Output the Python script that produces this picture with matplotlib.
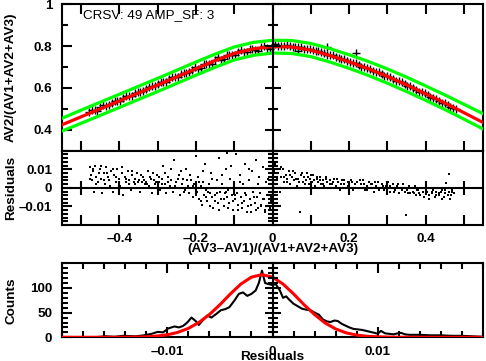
"""Amplitude ratio AV2/(AV1+AV2+AV3) vs. position, with residuals and residual histogram."""

import matplotlib
matplotlib.use("Agg")
import matplotlib.pyplot as plt
from matplotlib.ticker import FixedLocator, MultipleLocator, FuncFormatter

# --- top panel: measured ratio ---
data_x = [-0.48, -0.465, -0.45, -0.435, -0.42, -0.405, -0.39, -0.375, -0.36, -0.345,
          -0.33, -0.315, -0.30, -0.285, -0.27, -0.255, -0.24, -0.225, -0.21, -0.195,
          -0.18, -0.165, -0.15, -0.135, -0.12, -0.105, -0.09, -0.075, -0.06, -0.045,
          -0.03, -0.015, 0.0, 0.015, 0.03, 0.045, 0.06, 0.075, 0.09, 0.105,
          0.12, 0.135, 0.15, 0.165, 0.18, 0.195, 0.21, 0.225, 0.24, 0.255,
          0.27, 0.285, 0.30, 0.315, 0.33, 0.345, 0.36, 0.375, 0.39, 0.405,
          0.42, 0.435, 0.45, 0.465, 0.48, 0.066, 0.143, 0.217,
          -0.4725, -0.4575, -0.4425, -0.4275, -0.4125, -0.3975, -0.3825, -0.3675, -0.3525, -0.3375,
          -0.3225, -0.3075, -0.2925, -0.2775, -0.2625, -0.2475, -0.2325, -0.2175, -0.2025, -0.1875,
          -0.1725, -0.1575, -0.1425, -0.1275, -0.1125, -0.0975, -0.0825, -0.0675, -0.0525, -0.0375,
          -0.0225, -0.0075, 0.0075, 0.0225, 0.0375, 0.0525, 0.0675, 0.0825, 0.0975, 0.1125,
          0.1275, 0.1425, 0.1575, 0.1725, 0.1875, 0.2025, 0.2175, 0.2325, 0.2475, 0.2625,
          0.2775, 0.2925, 0.3075, 0.3225, 0.3375, 0.3525, 0.3675, 0.3825, 0.3975, 0.4125,
          0.4275, 0.4425, 0.4575, 0.4725]
data_y = [0.484, 0.494, 0.508, 0.515, 0.530, 0.539, 0.552, 0.561, 0.575, 0.583,
          0.597, 0.607, 0.619, 0.628, 0.643, 0.650, 0.666, 0.672, 0.688, 0.693,
          0.714, 0.714, 0.734, 0.735, 0.759, 0.758, 0.774, 0.770, 0.787, 0.783,
          0.798, 0.791, 0.801, 0.803, 0.801, 0.803, 0.797, 0.795, 0.787, 0.783,
          0.775, 0.768, 0.758, 0.750, 0.739, 0.731, 0.719, 0.712, 0.700, 0.690,
          0.677, 0.668, 0.656, 0.643, 0.633, 0.618, 0.607, 0.592, 0.580, 0.565,
          0.553, 0.538, 0.526, 0.511, 0.498, 0.778, 0.798, 0.767,
          0.493, 0.492, 0.517, 0.518, 0.538, 0.537, 0.561, 0.563, 0.582, 0.584,
          0.606, 0.609, 0.627, 0.629, 0.651, 0.653, 0.673, 0.675, 0.699, 0.695,
          0.716, 0.716, 0.746, 0.739, 0.758, 0.756, 0.782, 0.771, 0.788, 0.779,
          0.801, 0.788, 0.808, 0.799, 0.805, 0.796, 0.798, 0.788, 0.788, 0.776,
          0.773, 0.759, 0.756, 0.741, 0.737, 0.722, 0.718, 0.702, 0.697, 0.681,
          0.675, 0.659, 0.651, 0.634, 0.627, 0.609, 0.601, 0.582, 0.574, 0.556,
          0.548, 0.530, 0.520, 0.503]

# fitted curve and its tolerance band
fit_x = [-0.55, -0.50, -0.45, -0.40, -0.35, -0.30, -0.25, -0.20, -0.15, -0.10, -0.05, 0.0,
         0.05, 0.10, 0.15, 0.20, 0.25, 0.30, 0.35, 0.40, 0.45, 0.50, 0.55]
fit_y = [0.424, 0.462, 0.500, 0.538, 0.576, 0.614, 0.653, 0.692, 0.731, 0.765, 0.787, 0.798,
         0.796, 0.781, 0.755, 0.725, 0.692, 0.655, 0.615, 0.572, 0.528, 0.482, 0.435]
upper_y = [0.455, 0.494, 0.532, 0.570, 0.608, 0.646, 0.685, 0.724, 0.762, 0.796, 0.818, 0.828,
           0.827, 0.813, 0.788, 0.759, 0.727, 0.691, 0.652, 0.610, 0.567, 0.522, 0.477]
lower_y = [0.394, 0.431, 0.469, 0.507, 0.545, 0.583, 0.622, 0.661, 0.699, 0.734, 0.756, 0.767,
           0.765, 0.750, 0.724, 0.694, 0.660, 0.623, 0.583, 0.541, 0.497, 0.451, 0.404]

# --- middle panel: residuals ---
resid_x = [-0.478, -0.475, -0.472, -0.470, -0.466, -0.463, -0.460, -0.456, -0.452, -0.449,
           -0.445, -0.441, -0.437, -0.434, -0.430, -0.426, -0.422, -0.418, -0.414, -0.410,
           -0.406, -0.402, -0.398, -0.394, -0.390, -0.386, -0.382, -0.378, -0.374, -0.370,
           -0.366, -0.362, -0.358, -0.354, -0.350, -0.346, -0.342, -0.338, -0.334, -0.330,
           -0.326, -0.322, -0.318, -0.314, -0.310, -0.306, -0.302,
           -0.297, -0.293, -0.289, -0.285, -0.281, -0.277, -0.273, -0.269, -0.265, -0.261,
           -0.257, -0.253, -0.249, -0.245, -0.241, -0.237, -0.233, -0.229, -0.225, -0.221,
           -0.217, -0.213, -0.209, -0.205, -0.201,
           -0.197, -0.194, -0.191, -0.188, -0.185, -0.182, -0.179, -0.176, -0.173, -0.170,
           -0.167, -0.164, -0.161, -0.158, -0.155, -0.152, -0.149, -0.146, -0.143, -0.140,
           -0.137, -0.134, -0.131, -0.128, -0.125, -0.122, -0.119, -0.116, -0.113, -0.110,
           -0.107, -0.104, -0.101, -0.098, -0.095, -0.092, -0.089, -0.086, -0.083, -0.080,
           -0.077, -0.074, -0.071, -0.068, -0.065, -0.062, -0.059, -0.056, -0.053, -0.050,
           -0.047, -0.044, -0.041, -0.038, -0.035, -0.032, -0.029, -0.026, -0.023, -0.020,
           -0.017, -0.014, -0.011, -0.008, -0.005, -0.002,
           0.003, 0.007, 0.011, 0.015, 0.019, 0.023, 0.027, 0.031, 0.035, 0.039,
           0.043, 0.047, 0.051, 0.055, 0.059, 0.063, 0.067, 0.071, 0.075, 0.079,
           0.083, 0.087, 0.091, 0.095, 0.099, 0.103, 0.107, 0.111, 0.115, 0.119,
           0.123, 0.127, 0.131, 0.135, 0.139, 0.143, 0.147,
           0.151, 0.156, 0.161, 0.166, 0.171, 0.176, 0.181, 0.186, 0.191, 0.196,
           0.201, 0.206, 0.211, 0.216, 0.221, 0.226, 0.231, 0.236, 0.241, 0.246,
           0.251, 0.256, 0.261, 0.266, 0.271, 0.276, 0.281, 0.286, 0.291, 0.296,
           0.301, 0.306, 0.311, 0.316, 0.321, 0.326, 0.331, 0.336, 0.341, 0.346, 0.348,
           0.352, 0.356, 0.360, 0.364, 0.368, 0.372, 0.376, 0.380, 0.384, 0.388,
           0.392, 0.396, 0.400, 0.404, 0.408, 0.412, 0.416, 0.420, 0.424, 0.428,
           0.432, 0.436, 0.440, 0.444, 0.448, 0.452, 0.456, 0.460, 0.462, 0.466,
           0.470, 0.474, 0.453,
           -0.476, -0.468, -0.461, -0.454, -0.447, -0.439, -0.432, -0.424, -0.416, -0.408,
           -0.400, -0.392, -0.384, -0.376, -0.368, -0.360, -0.352, -0.344, -0.336, -0.328,
           -0.320, -0.312, -0.304, -0.296, -0.288, -0.280, -0.272, -0.264, -0.256, -0.248,
           -0.240, -0.232, -0.224, -0.216, -0.208,
           -0.199, -0.193, -0.187, -0.181, -0.175, -0.169, -0.163, -0.157, -0.151, -0.145,
           -0.139, -0.133, -0.127, -0.121, -0.115, -0.109, -0.103, -0.097, -0.091, -0.085,
           -0.079, -0.073, -0.067, -0.061, -0.055, -0.049, -0.043, -0.037, -0.031, -0.025,
           -0.019, -0.013, -0.007, -0.003,
           0.005, 0.013, 0.021, 0.029, 0.037, 0.045, 0.053, 0.061, 0.069, 0.077,
           0.085, 0.093, 0.101, 0.109, 0.117, 0.125, 0.133, 0.141, 0.149, 0.158,
           0.168, 0.178, 0.188, 0.198, 0.208, 0.218, 0.228, 0.238, 0.248, 0.258,
           0.268, 0.278, 0.288, 0.298, 0.308, 0.318, 0.328, 0.338, 0.354, 0.362,
           0.370, 0.378, 0.386, 0.394, 0.402, 0.410, 0.418, 0.426, 0.434, 0.442,
           0.450, 0.458, 0.464, 0.468, -0.120]
resid_y = [0.011, 0.007, 0.004, 0.009, -0.002, 0.012, 0.006, 0.003, 0.010, 0.005,
           -0.003, 0.008, 0.002, 0.011, 0.006, 0.004, 0.009, -0.002, 0.007, 0.003,
           0.010, 0.005, 0.001, 0.008, -0.004, 0.006, 0.003, 0.009, 0.004, -0.001,
           0.007, 0.003, 0.002, 0.008, 0.004, -0.002, 0.003, 0.006, 0.002, 0.003,
           0.009, 0.001, 0.005, -0.003, 0.004, 0.002, 0.007,
           0.003, -0.001, 0.005, 0.012, 0.002, -0.003, 0.006, 0.001, 0.004, -0.002,
           0.015, 0.003, 0.000, 0.007, -0.004, 0.002, 0.005, -0.001, 0.010, 0.001,
           -0.003, 0.004, -0.005, 0.002, 0.017,
           -0.002, 0.006, -0.006, 0.001, -0.009, 0.003, -0.004, 0.013, -0.001, -0.007,
           0.002, -0.003, 0.008, -0.005, -0.011, 0.000, -0.004, 0.004, -0.008, 0.016,
           -0.002, -0.006, 0.002, -0.010, -0.003, 0.010, -0.005, -0.001, -0.008, 0.005,
           -0.004, -0.012, 0.001, -0.006, 0.018, -0.003, -0.009, 0.007, -0.005, -0.011,
           0.002, -0.007, 0.013, -0.004, -0.010, 0.004, -0.006, -0.013, 0.009, -0.002,
           -0.008, 0.015, -0.005, -0.011, 0.006, -0.003, -0.009, 0.011, -0.006, -0.012,
           0.003, -0.004, -0.010, 0.008, -0.007, -0.002,
           0.006, 0.013, 0.004, 0.008, -0.002, 0.006, 0.010, 0.003, 0.007, 0.005,
           0.009, 0.002, 0.006, 0.004, 0.008, 0.001, 0.005, -0.013, 0.007, 0.003,
           0.006, 0.004, 0.008, 0.002, 0.005, 0.003, 0.007, 0.001, 0.005, 0.003,
           0.006, 0.002, 0.004, 0.001, 0.005, 0.003, 0.000,
           0.004, 0.002, 0.005, 0.001, 0.003, -0.001, 0.004, 0.002, 0.000, 0.003,
           0.001, 0.004, -0.001, 0.002, 0.003, 0.000, 0.002, 0.004, -0.001, 0.001,
           0.003, 0.000, 0.002, -0.002, 0.001, 0.003, 0.000, 0.002, -0.001, 0.001,
           0.003, -0.002, 0.000, 0.002, -0.001, 0.001, -0.003, 0.000, 0.002, -0.002, -0.0146,
           -0.001, 0.001, -0.003, 0.000, -0.002, 0.001, -0.004, -0.001, -0.003, 0.000,
           -0.002, -0.005, 0.001, -0.002, -0.004, 0.000, -0.003, -0.001, -0.005, -0.002,
           0.000, -0.004, -0.002, -0.001, -0.005, -0.003, 0.000, -0.002, 0.0077, -0.004,
           -0.001, -0.003, 0.0024,
           0.005, 0.010, 0.002, 0.008, 0.012, 0.004, 0.008, 0.001, 0.010, 0.006,
           0.003, 0.011, 0.005, 0.002, 0.009, 0.005, 0.003, 0.007, 0.004, 0.002,
           0.006, 0.008, 0.003, 0.006, 0.002, 0.008, 0.003, 0.010, 0.001, 0.005,
           0.009, -0.002, 0.004, 0.007, 0.001,
           -0.004, 0.003, -0.007, 0.009, -0.005, -0.002, -0.010, 0.005, -0.007, -0.003,
           -0.012, 0.007, -0.006, -0.002, -0.011, 0.012, -0.007, -0.004, -0.012, 0.003,
           -0.008, -0.003, -0.013, 0.010, -0.009, -0.005, -0.012, 0.002, -0.010, -0.006,
           -0.013, 0.005, -0.011, -0.005,
           0.009, 0.005, 0.011, 0.006, 0.003, 0.007, 0.009, 0.005, 0.003, 0.008,
           0.002, 0.006, 0.007, 0.004, 0.006, 0.004, 0.002, 0.006, 0.002, 0.003,
           0.005, 0.002, 0.004, 0.001, 0.003, 0.000, 0.004, 0.002, -0.001, 0.002,
           0.003, -0.001, 0.001, 0.002, 0.001, -0.002, 0.002, -0.001, -0.003, 0.000,
           -0.003, -0.001, -0.004, -0.002, -0.003, -0.006, -0.002, -0.004, -0.003, -0.006,
           -0.001, -0.004, -0.006, -0.002, 0.019]

# --- bottom panel: histogram of residuals and gaussian fit ---
hist_x = [-0.0200, -0.0170, -0.0158, -0.0150, -0.0142, -0.0130, -0.0122, -0.0115, -0.0109, -0.0104,
          -0.0099, -0.0093, -0.0089, -0.0085, -0.0081, -0.0077, -0.0073, -0.0070, -0.0066, -0.0062,
          -0.0058, -0.0053, -0.0049, -0.0045, -0.0041, -0.0036, -0.0032, -0.0028, -0.0024, -0.0020,
          -0.0016, -0.0013, -0.0010, -0.0007, -0.0004, 0.0000, 0.0003, 0.0007, 0.0010, 0.0013,
          0.0016, 0.0020, 0.0024, 0.0028, 0.0032, 0.0036, 0.0040, 0.0044, 0.0048, 0.0052,
          0.0055, 0.0059, 0.0062, 0.0066, 0.0069, 0.0073, 0.0077, 0.0081, 0.0085, 0.0089,
          0.0093, 0.0097, 0.0100, 0.0103, 0.0107, 0.0111, 0.0115, 0.0119, 0.0122, 0.0126,
          0.0130, 0.0140, 0.0150, 0.0160, 0.0170, 0.0180, 0.0190, 0.0200]
hist_counts = [0, 0, 2, 1, 3, 2, 4, 7, 11, 10,
               18, 22, 20, 23, 30, 40, 33, 25, 35, 44,
               40, 48, 55, 57, 61, 75, 88, 91, 84, 88,
               95, 110, 135, 110, 108, 106, 108, 95, 80, 83,
               76, 68, 63, 58, 56, 55, 50, 46, 36, 32,
               31, 34, 33, 27, 24, 20, 17, 16, 15, 13,
               11, 9, 7, 13, 8, 7, 6, 8, 9, 6,
               5, 5, 4, 4, 3, 3, 2, 1]

gauss_x = [-0.020, -0.015, -0.013, -0.012, -0.011, -0.010, -0.009, -0.008, -0.007, -0.006,
           -0.005, -0.004, -0.003, -0.002, -0.001, 0.000, 0.001, 0.002, 0.003, 0.004,
           0.005, 0.006, 0.007, 0.008, 0.009, 0.010, 0.011, 0.012, 0.020]
gauss_y = [0, 0, 0.5, 1, 2.5, 5, 10, 18, 30, 46,
           66, 88, 108, 122, 127, 122, 108, 88, 66, 46,
           29, 17, 9, 4.5, 2, 1, 0.4, 0, 0]

LW = 1.5
FONT = 9.7
plt.rcParams["font.family"] = ["Liberation Sans", "DejaVu Sans"]
plt.rcParams["font.weight"] = "bold"
plt.rcParams["font.size"] = FONT
plt.rcParams["axes.linewidth"] = LW

dash = FuncFormatter(lambda v, _: ("%g" % round(v, 6)).replace("-", "\u2013"))


def style_axes(ax, xmaj, xmin, ymaj, ymin):
    ax.xaxis.set_major_locator(xmaj)
    ax.xaxis.set_minor_locator(xmin)
    ax.yaxis.set_major_locator(ymaj)
    ax.yaxis.set_minor_locator(ymin)
    ax.xaxis.set_major_formatter(dash)
    ax.yaxis.set_major_formatter(dash)
    ax.tick_params(which="both", direction="in", top=True, right=True, width=LW, colors="black")
    ax.tick_params(axis="x", which="major", length=7, pad=6)
    ax.tick_params(axis="x", which="minor", length=5)
    ax.tick_params(axis="y", which="major", length=7, pad=7)
    ax.tick_params(axis="y", which="minor", length=4)


def zero_vline(ax, ymaj, ymin):
    tw = ax.twinx()
    tw.set_ylim(ax.get_ylim())
    for side in ("left", "top", "bottom"):
        tw.spines[side].set_visible(False)
    tw.spines["right"].set_position(("data", 0))
    tw.spines["right"].set_linewidth(LW)
    tw.yaxis.set_major_locator(ymaj)
    tw.yaxis.set_minor_locator(ymin)
    tw.tick_params(axis="y", which="both", direction="inout", labelright=False, width=LW)
    tw.tick_params(axis="y", which="major", length=12)
    tw.tick_params(axis="y", which="minor", length=7)


def zero_hline(ax, xmaj):
    tw = ax.twiny()
    tw.set_xlim(ax.get_xlim())
    for side in ("left", "right", "bottom"):
        tw.spines[side].set_visible(False)
    tw.spines["top"].set_position(("data", 0))
    tw.spines["top"].set_linewidth(LW)
    tw.xaxis.set_major_locator(xmaj)
    tw.xaxis.set_minor_locator(FixedLocator([]))
    tw.tick_params(axis="x", which="both", direction="inout", labeltop=False, width=LW, length=10)


def left_label(ax, text):
    ax.set_ylabel(text, fontweight="bold")
    ax.yaxis.set_label_coords(-0.121, 0.5)
    ax.yaxis.label.set_va("center")


fig = plt.figure(figsize=(4.86, 3.61), dpi=100)
L, W = 62 / 486, 421 / 486
ax1 = fig.add_axes([L, 1 - 150.7 / 361, W, 146.4 / 361])
ax2 = fig.add_axes([L, 1 - 225 / 361, W, 74.3 / 361])
ax3 = fig.add_axes([L, 1 - 337.3 / 361, W, 74 / 361])

# top panel
ax1.plot(data_x, data_y, "+", color="black", markersize=5.5, mew=1.0, zorder=2)
ax1.plot(fit_x, fit_y, color="red", lw=2.3, zorder=3)
ax1.plot(fit_x, upper_y, color="#00ff00", lw=2.3, zorder=3)
ax1.plot(fit_x, lower_y, color="#00ff00", lw=2.3, zorder=3)
ax1.set_xlim(-0.55, 0.55)
ax1.set_ylim(0.3, 1.0)
style_axes(ax1, MultipleLocator(0.2), MultipleLocator(0.1),
           FixedLocator([0.4, 0.6, 0.8, 1.0]), FixedLocator([0.3, 0.5, 0.7, 0.9]))
ax1.tick_params(axis="x", which="minor", length=7)
ax1.tick_params(axis="x", labelbottom=False)
left_label(ax1, "AV2/(AV1+AV2+AV3)")
ax1.text(0.049, 0.927, "CRSV: 49 AMP_SF: 3", transform=ax1.transAxes,
         ha="left", va="center", fontweight="normal")
zero_vline(ax1, FixedLocator([0.4, 0.6, 0.8, 1.0]), FixedLocator([0.3, 0.5, 0.7, 0.9]))

# middle panel
ax2.plot(resid_x, resid_y, "s", color="black", markersize=1.5, mew=0, zorder=2)
ax2.set_xlim(-0.55, 0.55)
ax2.set_ylim(-0.02, 0.02)
style_axes(ax2, MultipleLocator(0.2), MultipleLocator(0.1),
           FixedLocator([-0.01, 0.0, 0.01]), MultipleLocator(0.002))
ax2.tick_params(axis="x", which="minor", length=7)
left_label(ax2, "Residuals")
ax2.set_xlabel("(AV3\u2013AV1)/(AV1+AV2+AV3)", fontweight="bold")
ax2.xaxis.set_label_coords(0.5, -0.325)
ax2.xaxis.label.set_va("center")
zero_vline(ax2, FixedLocator([-0.01, 0.0, 0.01]), MultipleLocator(0.002))
zero_hline(ax2, MultipleLocator(0.1))

# bottom panel
ax3.plot(hist_x, hist_counts, color="black", lw=1.5, zorder=2)
ax3.plot(gauss_x, gauss_y, color="red", lw=2.2, zorder=3)
ax3.set_xlim(-0.02, 0.02)
ax3.set_ylim(0, 150)
style_axes(ax3, FixedLocator([-0.01, 0.0, 0.01]), MultipleLocator(0.002),
           FixedLocator([0, 50, 100]), MultipleLocator(10))
ax3.tick_params(axis="x", which="minor", length=4)
left_label(ax3, "Counts")
ax3.set_xlabel("Residuals", fontweight="bold")
ax3.xaxis.set_label_coords(0.5, -0.26)
ax3.xaxis.label.set_va("center")
zero_vline(ax3, FixedLocator([0, 50, 100]), MultipleLocator(10))

fig.savefig("out.png", dpi=100)
